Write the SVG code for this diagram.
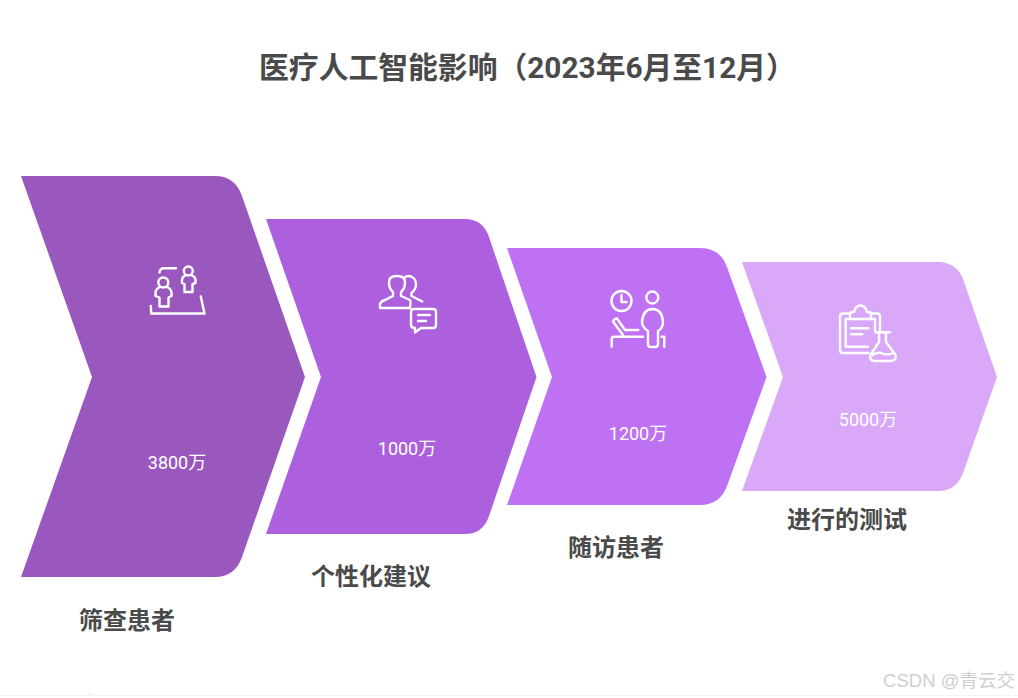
<svg xmlns="http://www.w3.org/2000/svg" width="1018" height="698" viewBox="0 0 1018 698">
<style>
text{font-family:Roboto,"Noto Sans CJK SC",sans-serif}
.t{font-size:29.800px;font-weight:700;fill:#4a4a4a;text-anchor:middle}
.l{font-size:24px;font-weight:700;fill:#4a4a4a;text-anchor:middle}
.v{font-size:18px;fill:#fff;text-anchor:middle}
.i{fill:none;stroke:#fff;stroke-width:2.4;stroke-linecap:round;stroke-linejoin:round}
</style>
<rect width="1018" height="698" fill="#fff"/>
<path d="M0 695.500H1018" stroke="#f4f4f4" stroke-width="1"/>
<path d="M90 693V695" stroke="#ddd"/>
<text class="t" x="527.500" y="78">医疗人工智能影响（2023年6月至12月）</text>
<g id="node1">
<path d="M21 176H215Q235 176 242 196L305 377L242 557Q235 577 215 577H21L92 377Z" fill="#9a58bf"/>
<g class="i"><path d="M159.500 272.500Q160 268.300 164 268.300H176"/><circle cx="188.300" cy="271" r="4.500"/><path d="M185 275.500Q182 277 182 280V283L184.500 284V292H192.500V284L195.500 283V280Q195.500 277 192 275.500"/><circle cx="163.300" cy="282.500" r="5"/><path d="M160 287Q155.500 289 155.500 293V296L159.500 297.500V306.500H168.500V297.500L171.500 296V293Q171.500 289 167 287"/><path d="M150.800 306L151.200 313.500H204.500L200.800 296.500"/></g>
<text class="v" x="177" y="468.500">3800万</text>
<text class="l" x="127" y="629">筛查患者</text>
</g>
<g id="node2">
<path d="M266 219H465Q483 219 489 237L536.500 377L489 516Q483 534 465 534H266L321 377Z" fill="#ac60de"/>
<g class="i"><path d="M380 308V304Q381 301 385 300L393 296V292Q389 289 389 282Q389 276 397 276Q405 276 405 282Q405 289 401 292V296L410 300Q411 301 410 308Z"/><path d="M405 277Q409 275 412 277Q416 279 416 285Q416 289 411.500 293V296L422.300 301.500"/><path d="M414 309H433Q436 309 436 312V325Q436 328 433 328H421L415 332.500V328Q411 328 411 325V312Q411 309 414 309Z"/><path d="M418 315H430M418 321H426"/></g>
<text class="v" x="407" y="454.500">1000万</text>
<text class="l" x="371" y="585">个性化建议</text>
</g>
<g id="node3">
<path d="M507 248H700Q720 248 727 267L766.500 377L727 486Q720 505 700 505H507L552 377Z" fill="#be71f2"/>
<g class="i"><circle cx="621.500" cy="301" r="10"/><path d="M621.500 295V302H626.500"/><circle cx="652.300" cy="297.500" r="6"/><path d="M648 331Q642 327 642 322Q643 309 652.500 309Q662 309 663 322Q663 328 658 331V344Q658 347 655 347H650.500Q648 347 648 344Z"/><path d="M638.300 330H625L617 318.500Q615 318 613 321.500L623 335"/><path d="M611.700 346.700V339Q611.700 336.700 614 336.700H643"/><path d="M661.500 336.700H664.300V346.700"/></g>
<text class="v" x="638" y="439.500">1200万</text>
<text class="l" x="616" y="556">随访患者</text>
</g>
<g id="node4">
<path d="M742 262H938Q956 262 963 279L997 377L963 473Q956 491 938 491H742L783 377Z" fill="#d9a8f9"/>
<g class="i"><path d="M850 313.500H843Q840 313.500 840 316.500V350Q840 353 843 353H868.500"/><path d="M871 313.500H877Q880 313.500 880 316.500V333"/><path d="M850 319H845.700V346.700H868"/><path d="M871 319H875V331"/><path d="M850 319V314Q850 312 853 312H854Q855.500 305.500 860.500 305.500Q865.500 305.500 867 312H868Q871 312 871 314V319Z"/><path d="M851 328.300H868.300M851 334.300H862.300"/><path d="M875.700 332.300H890M879 332.300V342L870.500 355Q869 361 875 361H891Q897 360 895.500 355L886 342V332.300"/><path d="M872.700 355Q877 352 881 353Q887 356 893 353"/></g>
<text class="v" x="868" y="425.500">5000万</text>
<text class="l" x="847" y="528">进行的测试</text>
</g>
<text x="949" y="687" font-size="18.500" fill="#cfcfcf" text-anchor="middle" style="font-family:'Liberation Sans','Noto Sans CJK SC',sans-serif">CSDN @青云交</text>
</svg>
